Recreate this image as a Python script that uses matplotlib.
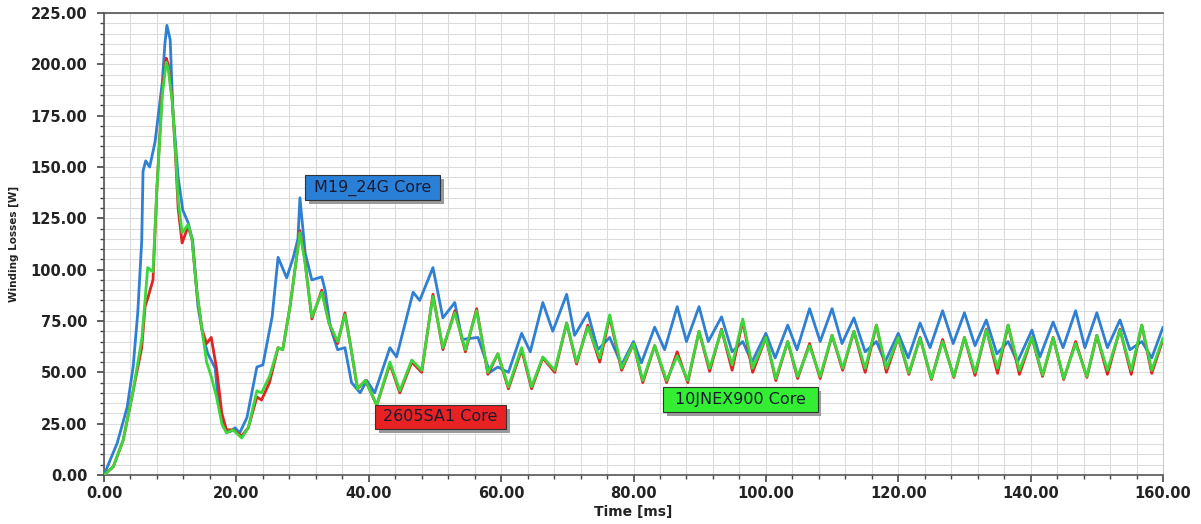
import matplotlib.pyplot as plt
from matplotlib.patches import Rectangle
from matplotlib.ticker import MultipleLocator, FormatStrFormatter

plt.rcParams['font.family'] = ['DejaVu Sans']

# M19_24G Core (blue)
blue_t = [0, 2.0, 3.5, 4.4, 5.1, 5.7, 5.9, 6.3, 6.9, 7.7, 8.8, 9.2, 9.5, 10.0, 10.4,
          11.2, 11.9, 12.7, 13.4, 14.2, 15.0, 15.7, 16.8, 17.2, 18.0, 19.0, 19.8, 20.5,
          21.6, 23.1, 24.0, 25.4, 26.3, 27.6, 28.6, 29.3, 29.6, 30.4, 31.4, 32.9, 33.4,
          34.2, 35.3, 36.4, 37.4, 38.7, 39.7, 40.9, 43.2, 44.2, 46.7, 47.7, 49.7, 51.2,
          53.0, 54.1, 56.5, 58.3, 59.5, 61.1, 63.1, 64.4, 66.3, 67.8, 69.9, 71.1, 73.1,
          74.6, 76.4, 78.2, 80.0, 81.2, 83.2, 84.7, 86.6, 88.0, 89.9, 91.3, 93.3, 94.9,
          96.5, 97.9, 100.0, 101.4, 103.3, 104.7, 106.6, 108.2, 110.0, 111.5, 113.3,
          115.0, 116.7, 118.0, 120.0, 121.5, 123.3, 124.8, 126.7, 128.3, 130.0, 131.6,
          133.3, 134.9, 136.6, 138.0, 140.2, 141.4, 143.4, 144.9, 146.8, 148.2, 150.0,
          151.6, 153.5, 155.0, 156.8, 158.3, 160.0]
blue_w = [0, 15.6, 33, 52.6, 79, 114, 148, 153, 150, 162, 191, 210, 219, 212, 178,
          145, 129, 123, 114, 82, 67, 59, 52, 38, 23.4, 21, 23, 20.5,
          28, 52.6, 53.6, 77, 106, 96, 106, 115, 135, 108, 95, 96.5, 90,
          72, 61, 62, 45, 40, 46, 40, 62, 57.5, 89, 85, 101, 76.5,
          84, 66, 67, 50, 52.6, 50, 69, 60, 84, 70, 88, 68, 79,
          61, 67, 53.6, 65, 54.6, 72, 61, 82, 65, 82, 65, 77, 60,
          65, 55, 69, 57, 73, 61, 81, 65, 81, 64, 76.5,
          60, 65, 55, 69, 57, 74, 62, 80, 64, 79, 63,
          75.5, 59, 65, 55, 70.6, 57.5, 74.5, 62, 80, 62, 79,
          62, 75.5, 61, 65, 57, 72]

# 2605SA1 Core (red) and 10JNEX900 Core (green) share the time base
core_t = [0, 1.4, 2.9, 4.4, 5.7, 6.2, 6.6, 7.4, 8.0, 8.8, 9.4, 9.7, 10.3, 10.8, 11.2,
          11.8, 12.7, 13.3, 14.0, 14.8, 15.5, 16.2, 17.0, 17.8, 18.5, 19.5, 20.8, 21.8,
          23.1, 23.8, 25.0, 26.3, 27.0, 28.1, 29.1, 29.6, 30.3, 31.4, 32.9, 34.0, 35.3,
          36.4, 37.3, 38.3, 39.5, 41.2, 43.2, 44.7, 46.5, 48.0, 49.7, 51.2, 53.0, 54.6,
          56.3, 58.0, 59.5, 61.1, 63.1, 64.6, 66.3, 68.1, 69.9, 71.4, 73.1, 74.9, 76.4,
          78.2, 80.0, 81.4, 83.2, 85.0, 86.6, 88.2, 89.9, 91.5, 93.3, 94.9, 96.5, 98.0,
          100.0, 101.5, 103.3, 104.8, 106.6, 108.2, 110.0, 111.6, 113.3, 115.0, 116.7,
          118.2, 120.0, 121.6, 123.3, 125.0, 126.7, 128.4, 130.0, 131.6, 133.3, 135.0,
          136.6, 138.3, 140.2, 141.8, 143.4, 145.0, 146.8, 148.5, 150.0, 151.6, 153.5,
          155.2, 156.8, 158.3, 160.0]
green_w = [0, 4, 17, 41, 66, 85, 101, 99, 140, 185, 201, 198, 182, 158, 134,
           118, 122, 115, 90, 71, 55, 48, 38, 25, 20.5, 22, 18, 23,
           41, 40, 48, 62, 61, 82, 106, 118, 105, 77, 89, 74, 65,
           78, 62, 42, 46, 34, 55, 41, 56, 51, 87, 62, 79, 61,
           80, 50, 59, 43, 62, 43, 57.5, 51, 74, 55, 72, 57, 78,
           52, 64, 46, 63, 46, 58, 46, 70, 52, 70.6, 53.6, 76, 52,
           67, 47, 65, 48, 63, 48, 68, 52, 70, 52, 73,
           52, 67, 49.7, 66.7, 47, 65, 48, 67, 50, 70.6, 52,
           73, 51, 67, 48.7, 66.7, 47, 64, 48, 68, 51, 70.6,
           51, 73, 51, 66.7]
red_w = [0, 4, 17, 41, 62, 82, 86, 95, 140, 187, 203, 200, 183, 156, 130,
         113, 121, 115, 90, 71, 64, 67, 52, 30, 22, 22, 19, 23,
         38, 36.5, 45, 62, 61, 82, 106, 119, 106, 76, 90, 74, 64,
         79, 62, 42, 46, 34, 54, 40, 55, 50, 88, 61, 80, 60,
         81, 49, 59, 42, 61, 42, 57, 50, 74, 54, 73, 55, 77,
         51, 64, 45, 63, 45, 60, 45, 70, 50.5, 71, 51, 75, 50,
         67, 46, 65, 47, 64, 47, 68, 51, 70, 50, 73,
         50, 67, 49, 67, 46.5, 66, 47.5, 67, 48.5, 71, 49.5,
         73, 49, 67, 48, 67, 46.5, 65, 47.5, 68, 49, 71,
         49, 73, 49.5, 66]

fig = plt.figure(figsize=(12.01, 5.24), dpi=100)
ax = fig.add_axes([104 / 1201, 1 - 475 / 524, (1163 - 104) / 1201, (475 - 13) / 524])

style = dict(lw=2.0, solid_joinstyle='round', solid_capstyle='round')
ax.plot(blue_t, blue_w, color='#2f7fd2', zorder=3, **style)
ax.plot(core_t, red_w, color='#e02424', zorder=4, **style)
ax.plot(core_t, green_w, color='#3ad83a', zorder=5, **style)

ax.set_xlim(0, 160)
ax.set_ylim(0, 225)
ax.xaxis.set_major_locator(MultipleLocator(20))
ax.xaxis.set_minor_locator(MultipleLocator(4))
ax.yaxis.set_major_locator(MultipleLocator(25))
ax.yaxis.set_minor_locator(MultipleLocator(5))
ax.xaxis.set_major_formatter(FormatStrFormatter('%.2f'))
ax.yaxis.set_major_formatter(FormatStrFormatter('%.2f'))
ax.grid(which='both', color='#dcdcdc', lw=0.8, zorder=0)
ax.set_axisbelow(True)
ax.tick_params(which='major', length=5, width=1.2, color='#444444', labelsize=10.5)
ax.tick_params(axis='y', which='major', pad=7)
ax.tick_params(axis='x', which='major', pad=3)
ax.tick_params(which='minor', length=3, width=1.0, color='#444444')
for lab in ax.get_xticklabels() + ax.get_yticklabels():
    lab.set_fontweight('bold')
    lab.set_color('#222222')

for side in ['left', 'bottom', 'top']:
    ax.spines[side].set_color('#555555')
    ax.spines[side].set_linewidth(1.2)
ax.spines['right'].set_color('#cccccc')

ax.set_xlabel('Time [ms]', fontsize=10, fontweight='bold', labelpad=3, color='#222222')
ax.set_ylabel('Winding Losses [W]', fontsize=7.5, fontweight='bold', labelpad=8, color='#222222')

# curve labels
labels = [('M19_24G Core', 30.4, 134, 20.4, 12, '#2a7fd6'),
          ('2605SA1 Core', 40.9, 22.5, 19.8, 11.8, '#e82222'),
          ('10JNEX900 Core', 84.4, 30.7, 23.4, 12.2, '#33ee33')]
for text, x0, y0, w, h, fc in labels:
    ax.add_patch(Rectangle((x0 + 0.6, y0 - 2.0), w, h, fc='#9a9a9a', ec='none', zorder=6))
    ax.add_patch(Rectangle((x0, y0), w, h, fc=fc, ec='#333333', lw=0.8, zorder=7))
    ax.text(x0 + w / 2, y0 + h / 2, text, ha='center', va='center', fontsize=11.5,
            color='#1a1a33', zorder=8)

fig.savefig('out.png', dpi=100)
